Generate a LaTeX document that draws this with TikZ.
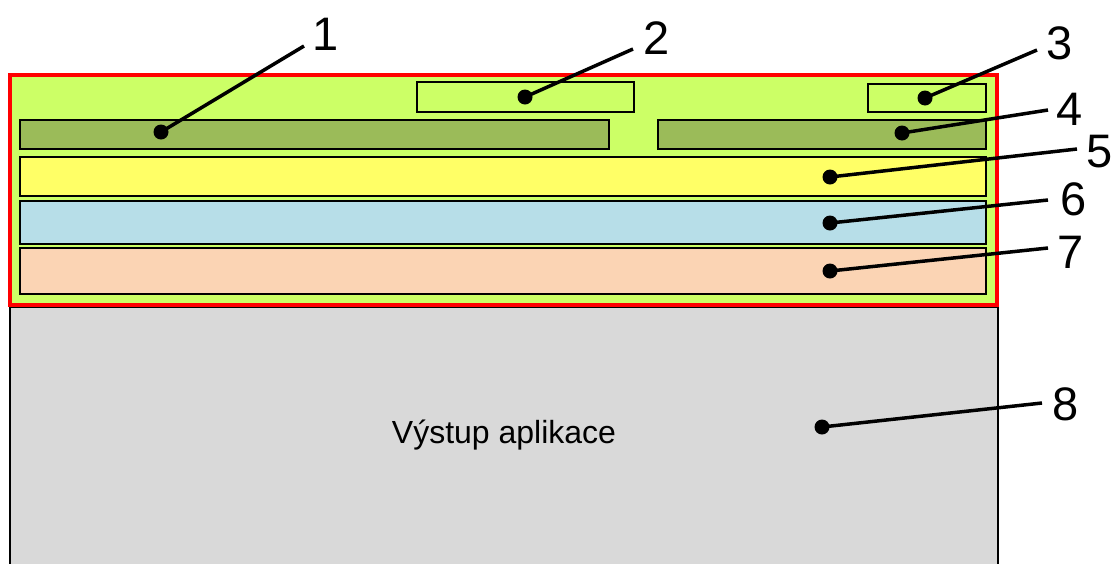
\documentclass[tikz,border=0pt]{standalone}
\usepackage{fontspec}
\setmainfont{Liberation Sans}
\definecolor{lgreen}{HTML}{CCFF66}
\definecolor{olive}{HTML}{9BBB59}
\definecolor{lyellow}{HTML}{FFFF66}
\definecolor{lblue}{HTML}{B7DEE8}
\definecolor{peach}{HTML}{FBD4B4}
\definecolor{lgray}{HTML}{D9D9D9}
\tikzset{
  panel/.style={draw=black, line width=1.5pt, inner sep=0pt, outer sep=0pt, rectangle},
  num/.style={font=\fontsize{47}{50}\selectfont, anchor=base, inner sep=0pt},
  leader/.style={line width=3.5pt, draw=black},
  dot/.style={fill=black}
}
\begin{document}
\begin{tikzpicture}[x=1pt,y=-1pt]
\useasboundingbox (0,0) rectangle (1115,563);
\clip (0,0) rectangle (1115,563);
\fill[white] (0,0) rectangle (1115,563);
% gray output area
\node[panel, fill=lgray, minimum width=988pt, minimum height=273pt] (out) at (504,443.5) {};
\node[anchor=base, inner sep=0pt, font=\fontsize{32}{36}\selectfont] (outtxt) at (504,443) {Výstup aplikace};
% window frame
\node[rectangle, draw=red, line width=4pt, fill=lgreen, inner sep=0pt, minimum width=987pt, minimum height=230pt] (frame) at (503.5,190) {};
% inner boxes
\node[panel, fill=lgreen, minimum width=217pt, minimum height=30pt] (b2) at (525.5,97) {};
\node[panel, fill=lgreen, minimum width=118pt, minimum height=28pt] (b3) at (927,98) {};
\node[panel, fill=olive, minimum width=589pt, minimum height=29pt] (b1) at (314.5,134.5) {};
\node[panel, fill=olive, minimum width=328pt, minimum height=29pt] (b4) at (822,134.5) {};
\node[panel, fill=lyellow, minimum width=966pt, minimum height=39pt] (b5) at (503,176.5) {};
\node[panel, fill=lblue, minimum width=966pt, minimum height=43pt] (b6) at (503,222.5) {};
\node[panel, fill=peach, minimum width=966pt, minimum height=46pt] (b7) at (503,271) {};
% dots
\coordinate (d1) at (161,132);
\coordinate (d2) at (525,97);
\coordinate (d3) at (925,98);
\coordinate (d4) at (902,133);
\coordinate (d5) at (830,177);
\coordinate (d6) at (830,223);
\coordinate (d7) at (830,271);
\coordinate (d8) at (822,427);
% leader ends
\coordinate (e1) at (304,46);
\coordinate (e2) at (633,49);
\coordinate (e3) at (1037,50);
\coordinate (e4) at (1048,110);
\coordinate (e5) at (1077,149);
\coordinate (e6) at (1048,200);
\coordinate (e7) at (1048,248);
\coordinate (e8) at (1042,403);
% labels
\node[num] (n1) at (326,50) {1};
\node[num] (n2) at (657,54) {2};
\node[num] (n3) at (1060,59) {3};
\node[num] (n4) at (1070,125) {4};
\node[num] (n5) at (1100,167) {5};
\node[num] (n6) at (1074,215) {6};
\node[num] (n7) at (1071,268) {7};
\node[num] (n8) at (1066,420) {8};
\foreach \i in {1,...,8} {
  \draw[leader] (d\i) -- (e\i);
  \fill[dot] (d\i) circle (7.5pt);
}
\end{tikzpicture}
\end{document}
